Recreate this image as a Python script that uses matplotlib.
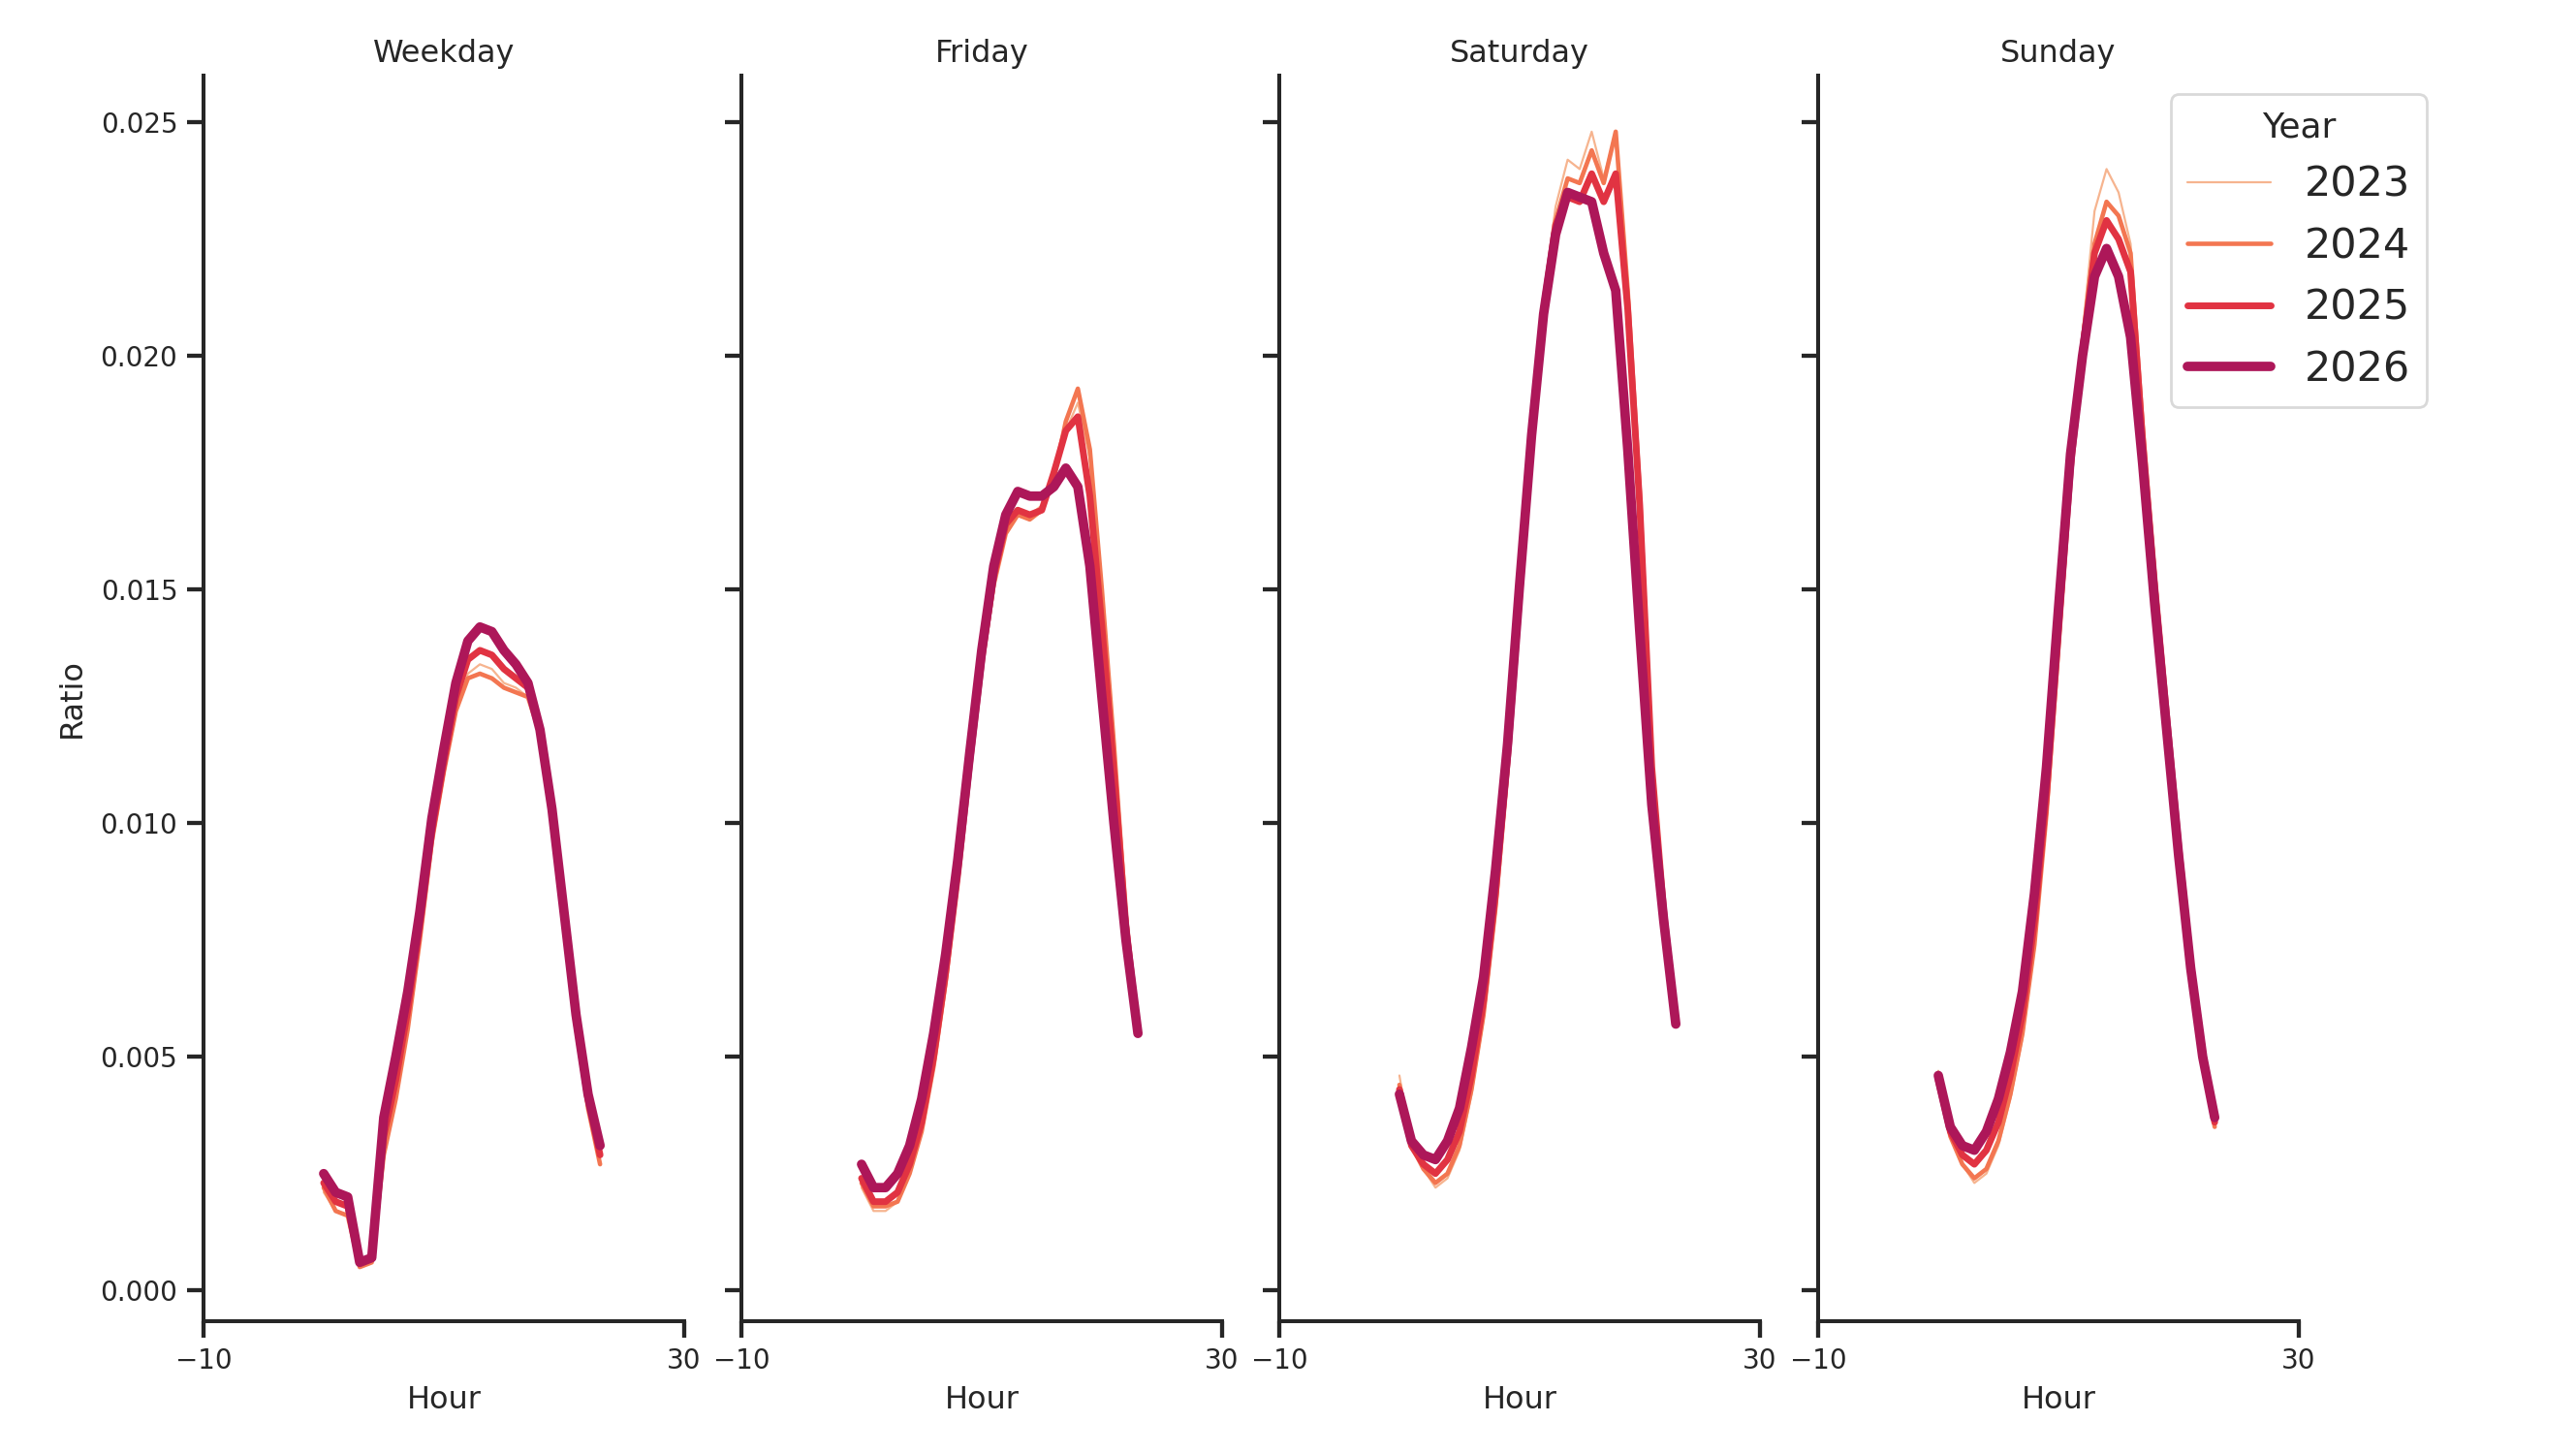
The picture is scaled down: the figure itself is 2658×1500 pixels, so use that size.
import matplotlib
matplotlib.use("Agg")
import matplotlib.pyplot as plt

hours = list(range(24))
years = ["2023", "2024", "2025", "2026"]
days = ["Weekday", "Friday", "Saturday", "Sunday"]

weekday = {
    "2023": [0.0021, 0.0017, 0.0016, 0.0005, 0.0006, 0.0029, 0.0041, 0.0056, 0.0075, 0.0096, 0.0111, 0.0125,
             0.0132, 0.0134, 0.0133, 0.0130, 0.0129, 0.0127, 0.0119, 0.0102, 0.0080, 0.0057, 0.0039, 0.0027],
    "2024": [0.0022, 0.0017, 0.0016, 0.0005, 0.0006, 0.0029, 0.0041, 0.0056, 0.0075, 0.0096, 0.0111, 0.0124,
             0.0131, 0.0132, 0.0131, 0.0129, 0.0128, 0.0127, 0.0119, 0.0102, 0.0080, 0.0057, 0.0039, 0.0027],
    "2025": [0.0023, 0.0019, 0.0018, 0.0006, 0.0007, 0.0033, 0.0045, 0.0060, 0.0078, 0.0098, 0.0113, 0.0127,
             0.0135, 0.0137, 0.0136, 0.0133, 0.0131, 0.0129, 0.0120, 0.0103, 0.0080, 0.0058, 0.0041, 0.0029],
    "2026": [0.0025, 0.0021, 0.0020, 0.0006, 0.0007, 0.0037, 0.0050, 0.0064, 0.0081, 0.0101, 0.0116, 0.0130,
             0.0139, 0.0142, 0.0141, 0.0137, 0.0134, 0.0130, 0.0120, 0.0103, 0.0081, 0.0059, 0.0042, 0.0031],
}
friday = {
    "2023": [0.0022, 0.0017, 0.0017, 0.0019, 0.0025, 0.0034, 0.0048, 0.0066, 0.0088, 0.0112, 0.0134, 0.0152,
             0.0163, 0.0167, 0.0166, 0.0168, 0.0175, 0.0184, 0.0190, 0.0178, 0.0148, 0.0116, 0.0080, 0.0055],
    "2024": [0.0023, 0.0018, 0.0018, 0.0019, 0.0025, 0.0034, 0.0048, 0.0066, 0.0088, 0.0112, 0.0134, 0.0151,
             0.0162, 0.0166, 0.0165, 0.0167, 0.0174, 0.0186, 0.0193, 0.0180, 0.0150, 0.0117, 0.0080, 0.0055],
    "2025": [0.0024, 0.0019, 0.0019, 0.0021, 0.0027, 0.0036, 0.0050, 0.0068, 0.0089, 0.0113, 0.0135, 0.0153,
             0.0164, 0.0167, 0.0166, 0.0167, 0.0175, 0.0184, 0.0187, 0.0170, 0.0142, 0.0111, 0.0078, 0.0055],
    "2026": [0.0027, 0.0022, 0.0022, 0.0025, 0.0031, 0.0041, 0.0055, 0.0072, 0.0092, 0.0115, 0.0137, 0.0155,
             0.0166, 0.0171, 0.0170, 0.0170, 0.0172, 0.0176, 0.0172, 0.0155, 0.0127, 0.0100, 0.0075, 0.0055],
}
saturday = {
    "2023": [0.0046, 0.0031, 0.0026, 0.0022, 0.0024, 0.0030, 0.0042, 0.0058, 0.0081, 0.0111, 0.0148, 0.0183,
             0.0213, 0.0232, 0.0242, 0.0240, 0.0248, 0.0238, 0.0248, 0.0214, 0.0171, 0.0113, 0.0082, 0.0057],
    "2024": [0.0044, 0.0031, 0.0026, 0.0023, 0.0025, 0.0031, 0.0043, 0.0059, 0.0082, 0.0112, 0.0148, 0.0182,
             0.0211, 0.0229, 0.0238, 0.0237, 0.0244, 0.0237, 0.0248, 0.0214, 0.0171, 0.0113, 0.0082, 0.0057],
    "2025": [0.0043, 0.0031, 0.0027, 0.0025, 0.0028, 0.0034, 0.0046, 0.0062, 0.0085, 0.0114, 0.0149, 0.0182,
             0.0210, 0.0228, 0.0234, 0.0233, 0.0239, 0.0233, 0.0239, 0.0210, 0.0168, 0.0112, 0.0081, 0.0057],
    "2026": [0.0042, 0.0032, 0.0029, 0.0028, 0.0032, 0.0039, 0.0052, 0.0067, 0.0090, 0.0117, 0.0151, 0.0183,
             0.0209, 0.0226, 0.0235, 0.0234, 0.0233, 0.0222, 0.0214, 0.0180, 0.0141, 0.0104, 0.0079, 0.0057],
}
sunday = {
    "2023": [0.0047, 0.0033, 0.0027, 0.0023, 0.0025, 0.0031, 0.0041, 0.0054, 0.0073, 0.0101, 0.0138, 0.0176,
             0.0205, 0.0231, 0.0240, 0.0235, 0.0224, 0.0186, 0.0153, 0.0124, 0.0096, 0.0070, 0.0050, 0.0035],
    "2024": [0.0046, 0.0033, 0.0027, 0.0024, 0.0026, 0.0032, 0.0042, 0.0055, 0.0074, 0.0102, 0.0138, 0.0175,
             0.0203, 0.0224, 0.0233, 0.0230, 0.0222, 0.0185, 0.0153, 0.0124, 0.0096, 0.0070, 0.0050, 0.0035],
    "2025": [0.0045, 0.0034, 0.0029, 0.0027, 0.0030, 0.0036, 0.0046, 0.0059, 0.0079, 0.0106, 0.0141, 0.0176,
             0.0201, 0.0222, 0.0229, 0.0225, 0.0218, 0.0182, 0.0151, 0.0123, 0.0095, 0.0070, 0.0051, 0.0036],
    "2026": [0.0046, 0.0035, 0.0031, 0.0030, 0.0034, 0.0041, 0.0051, 0.0064, 0.0085, 0.0112, 0.0146, 0.0179,
             0.0200, 0.0217, 0.0223, 0.0217, 0.0204, 0.0177, 0.0147, 0.0120, 0.0093, 0.0069, 0.0050, 0.0037],
}
ratios = {"Weekday": weekday, "Friday": friday, "Saturday": saturday, "Sunday": sunday}

colors = ["#f6b48f", "#f37651", "#e13342", "#ad1759"]
widths = [1.6, 3.3, 5.0, 7.0]

ink = "#262626"
plt.rcParams["font.family"] = ["DejaVu Sans"]
plt.rcParams["text.color"] = ink
plt.rcParams["axes.labelcolor"] = ink
plt.rcParams["xtick.color"] = ink
plt.rcParams["ytick.color"] = ink

fig = plt.figure(figsize=(26.58, 15), dpi=100)
lefts = [0.0790, 0.2878, 0.4966, 0.7058]
axes = []
for i, day in enumerate(days):
    ax = fig.add_axes([lefts[i], 0.0913, 0.1866, 0.8567], sharey=axes[0] if axes else None)
    axes.append(ax)
    for j, yr in enumerate(years):
        ax.plot(hours, ratios[day][yr], color=colors[j], lw=widths[j], label=yr,
                solid_capstyle="round", solid_joinstyle="round")
    ax.set_xlim(-10, 30)
    ax.set_xticks([-10, 30])
    ax.set_ylim(-0.00066, 0.02600)
    ax.set_yticks([0.0, 0.005, 0.010, 0.015, 0.020, 0.025])
    ax.yaxis.set_major_formatter(matplotlib.ticker.FormatStrFormatter("%.3f"))
    for s in ["top", "right"]:
        ax.spines[s].set_visible(False)
    for s in ["left", "bottom"]:
        ax.spines[s].set_linewidth(2.9)
        ax.spines[s].set_color(ink)
    ax.tick_params(length=12.2, width=3.1, labelsize=20, pad=7)
    ax.set_title(day, fontsize=23, pad=10)
    ax.set_xlabel("Hour", fontsize=23, labelpad=8)
    if i == 0:
        ax.set_ylabel("Ratio", fontsize=23, labelpad=10)
    else:
        ax.tick_params(labelleft=False)

handles, labels = axes[-1].get_legend_handles_labels()
leg = fig.legend(handles, labels, title="Year", loc="upper right",
                 bbox_to_anchor=(0.9421, 0.9353), borderaxespad=0,
                 fontsize=31, title_fontsize=26, frameon=True, fancybox=True)
leg.get_frame().set_edgecolor("#d0d0d0")
leg.get_frame().set_linewidth(2.0)

fig.savefig("out.png", dpi=100)
